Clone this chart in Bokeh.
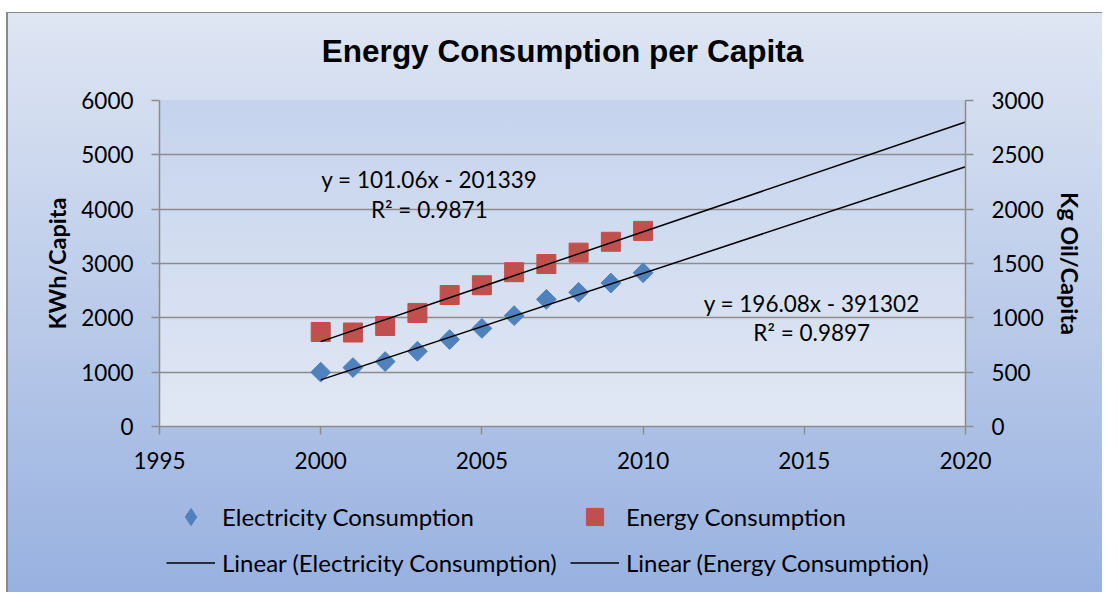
import math
from bokeh.plotting import figure
from bokeh.layouts import column
from bokeh.models import (Range1d, LinearAxis, Legend, LegendItem, Label,
                          SingleIntervalTicker)
from bokeh.embed import file_html
from bokeh.resources import INLINE

# ---------------- data ----------------
years = [2000, 2001, 2002, 2003, 2004, 2005, 2006, 2007, 2008, 2009, 2010]
electricity_kwh = [1000, 1085, 1195, 1385, 1600, 1805, 2040, 2340, 2470, 2640, 2830]
energy_kgoil = [870, 865, 925, 1045, 1210, 1300, 1420, 1495, 1600, 1700, 1800]

elec_slope, elec_intercept = 196.08, -391302
elec_r2 = 0.9897
energy_slope, energy_intercept = 101.06, -201339
energy_r2 = 0.9871
trend_years = [2000, 2020]

x_tick_interval = 5
left_tick_interval = 1000
right_tick_interval = 500
# ---------------------------------------

TICK_FONT = "Lato"
FS = "22.5px"
GRID = "#8c8c8c"
BLUE = "#4F81BD"
RED = "#C0504D"

W, H = 1102, 592
H1 = 486                      # main chart height; legend strip below
H2 = H - H1
FL, FR, FT, FB = 159, 965, 100, 426   # frame edges (screen px)

p = figure(width=W, height=H1, output_backend="svg", toolbar_location=None,
           x_range=Range1d(1995, 2020), y_range=Range1d(0, 6000),
           min_border_left=FL, min_border_right=W - FR,
           min_border_top=FT, min_border_bottom=H1 - FB)
p.extra_y_ranges = {"right": Range1d(0, 3000)}
p.border_fill_color = None
p.background_fill_color = None
p.outline_line_color = None

# title
p.title.text = "Energy Consumption per Capita"
p.title.align = "center"
p.title.vertical_align = "middle"
p.title.text_font = "Liberation Sans"
p.title.text_font_style = "bold"
p.title.text_font_size = "31.5px"
p.title.text_color = "black"
p.title.standoff = 62

# axes
def style_axis(ax, label_standoff):
    ax.axis_line_color = GRID
    ax.axis_line_width = 1.5
    ax.major_tick_line_color = GRID
    ax.major_tick_line_width = 1.5
    ax.major_tick_out = 8
    ax.major_tick_in = 0
    ax.minor_tick_line_color = None
    ax.major_label_text_font = TICK_FONT
    ax.major_label_text_font_size = FS
    ax.major_label_text_color = "black"
    ax.major_label_standoff = label_standoff
    ax.axis_label_text_font = TICK_FONT
    ax.axis_label_text_font_style = "bold"
    ax.axis_label_text_font_size = "23.5px"
    ax.axis_label_text_color = "black"

p.xaxis.ticker = SingleIntervalTicker(interval=x_tick_interval)
p.yaxis.ticker = SingleIntervalTicker(interval=left_tick_interval)
p.yaxis.axis_label = "KWh/Capita"
style_axis(p.xaxis[0], 17)
style_axis(p.yaxis[0], 18)
p.yaxis.axis_label_standoff = 7

right_axis = LinearAxis(y_range_name="right",
                        ticker=SingleIntervalTicker(interval=right_tick_interval),
                        axis_label="Kg Oil/Capita")
style_axis(right_axis, 18)
right_axis.axis_label_standoff = 9
p.add_layout(right_axis, "right")

p.xgrid.visible = False
p.ygrid.grid_line_color = GRID
p.ygrid.grid_line_width = 1.5

# data marks
p.scatter(years, electricity_kwh, marker="square", angle=math.pi / 4, size=14,
          fill_color=BLUE, line_color=BLUE)
p.scatter(years, energy_kgoil, marker="square", size=19,
          fill_color=RED, line_color=RED, y_range_name="right")

elec_trend = [elec_slope * x + elec_intercept for x in trend_years]
energy_trend = [energy_slope * x + energy_intercept for x in trend_years]
p.line(trend_years, elec_trend, line_color="black", line_width=1.5)
p.line(trend_years, energy_trend, line_color="black", line_width=1.5, y_range_name="right")

# equation labels
def eq_text(m, b):
    sign = "-" if b < 0 else "+"
    return f"y = {m:.2f}x {sign} {abs(b):.0f}"

labels = [
    (2003.37, 4537, eq_text(energy_slope, energy_intercept)),
    (2003.37, 3999, f"R² = {energy_r2:.4f}"),
    (2015.23, 2267, eq_text(elec_slope, elec_intercept)),
    (2015.23, 1730, f"R² = {elec_r2:.4f}"),
]
for x, y, t in labels:
    p.add_layout(Label(x=x, y=y, text=t, text_align="center", text_baseline="middle",
                       text_font=TICK_FONT, text_font_size=FS, text_color="black"))

# ---------------- legend strip ----------------
# legend-only proxy glyphs; their single point lies outside the strip's range
q = figure(width=W, height=H2, output_backend="svg", toolbar_location=None,
           x_range=Range1d(0, 1), y_range=Range1d(0, 1),
           x_axis_location=None, y_axis_location=None, min_border=0)
q.grid.visible = False
q.border_fill_color = None
q.background_fill_color = None
q.outline_line_color = None

g_elec = q.scatter(years[:1], electricity_kwh[:1], marker="diamond",
                   size=14, fill_color=BLUE, line_color=BLUE)
g_energy = q.scatter(years[:1], energy_kgoil[:1], marker="square", size=19,
                     fill_color=RED, line_color=RED)
g_lelec = q.line(trend_years, elec_trend, line_color="black", line_width=1.5)
g_lenergy = q.line(trend_years, energy_trend, line_color="black", line_width=1.5)

legend = Legend(items=[
    LegendItem(label="Electricity Consumption", renderers=[g_elec]),
    LegendItem(label="Energy Consumption", renderers=[g_energy]),
    LegendItem(label="Linear (Electricity Consumption)", renderers=[g_lelec]),
    LegendItem(label="Linear (Energy Consumption)", renderers=[g_lenergy]),
], orientation="horizontal", ncols=2, location=(7, 8))
legend.background_fill_alpha = 0
legend.border_line_color = None
legend.label_text_font = TICK_FONT
legend.label_text_font_size = "24px"
legend.label_text_color = "black"
legend.glyph_width = 49
legend.glyph_height = 43
legend.label_standoff = 7
legend.label_width = 345
legend.spacing = 3
legend.padding = 0
legend.margin = 0
q.add_layout(legend, "center")

layout = column(p, q, spacing=0)
layout.styles = {
    "background": (
        "linear-gradient(#8a8a8a,#8a8a8a) 6px 12px / 100% 1px no-repeat,"
        "linear-gradient(#8a8a8a,#8a8a8a) 6px 12px / 2px 100% no-repeat,"
        f"linear-gradient(#c5d3ed,#e1e8f4) {FL}px {FT}px / {FR - FL}px {FB - FT}px no-repeat,"
        "linear-gradient(#ffffff,#ffffff) 0px 0px / 100% 12px no-repeat,"
        "linear-gradient(#ffffff,#ffffff) 0px 0px / 6px 100% no-repeat,"
        "linear-gradient(to bottom,#dfe6f3 12px,#98b1e0 592px) 0px 0px / 100% 100% no-repeat"
    )
}

open("out.html", "w").write(file_html(layout, INLINE))
